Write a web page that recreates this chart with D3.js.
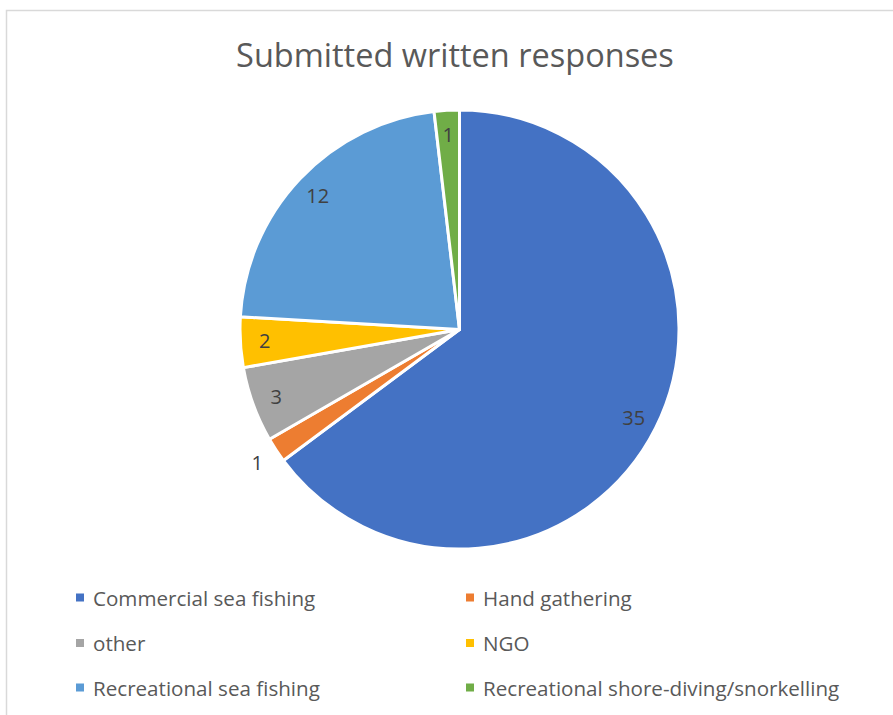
<!DOCTYPE html>
<html><head><meta charset="utf-8">
<script src="https://cdn.jsdelivr.net/npm/d3@7"></script>
<style>
html,body{margin:0;padding:0;background:#fff;}
svg{display:block;font-family:"Open Sans",sans-serif;}
</style></head>
<body>
<svg id="c" width="893" height="715"></svg>
<script>
const title = "Submitted written responses";
const categories = ["Commercial sea fishing","Hand gathering","other","NGO","Recreational sea fishing","Recreational shore-diving/snorkelling"];
const values = [35,1,3,2,12,1];
const colors = ["#4472C4","#ED7D31","#A5A5A5","#FFC000","#5B9BD5","#70AD47"];
const labelOutside = [false,true,false,false,false,false];

const svg = d3.select("#c");
svg.append("rect").attr("x",6.5).attr("y",10.5).attr("width",900).attr("height",720)
  .attr("fill","#fff").attr("stroke","#d9d9d9").attr("stroke-width",1.5);

svg.append("text").attr("x",455).attr("y",67).attr("text-anchor","middle")
  .attr("fill","#595959").attr("font-size",32.5).text(title);

const cx = 459.5, cy = 329.5, R = 219.5;
const data = categories.map((c,i)=>({cat:c,value:values[i],color:colors[i],outside:labelOutside[i]}));
const pie = d3.pie().value(d=>d.value).sort(null);
const arcs = pie(data);
const arc = d3.arc().innerRadius(0).outerRadius(R);
const g = svg.append("g").attr("transform",`translate(${cx},${cy})`);
g.selectAll("path").data(arcs).join("path")
  .attr("d",arc).attr("fill",d=>d.data.color)
  .attr("stroke","#fff").attr("stroke-width",3).attr("stroke-linejoin","round");

const inArc = d3.arc().innerRadius(195).outerRadius(195);
const outArc = d3.arc().innerRadius(242).outerRadius(242);
g.selectAll("text.lbl").data(arcs).join("text").attr("class","lbl")
  .attr("transform",d=>`translate(${(d.data.outside?outArc:inArc).centroid(d)})`)
  .attr("text-anchor","middle").attr("dominant-baseline","central")
  .attr("fill","#404040").attr("font-size",20)
  .text(d=>d.data.value);

const legX = [76, 466], legY = [597.5, 643, 687.5];
const lg = svg.append("g");
data.forEach((d,i)=>{
  const col = i%2, row = Math.floor(i/2);
  lg.append("rect").attr("x",legX[col]).attr("y",legY[row]-4).attr("width",8).attr("height",8).attr("fill",d.color);
  lg.append("text").attr("x",legX[col]+17).attr("y",legY[row]).attr("dominant-baseline","central")
    .attr("fill","#595959").attr("font-size",20.6).text(d.cat);
});
</script>
</body></html>
